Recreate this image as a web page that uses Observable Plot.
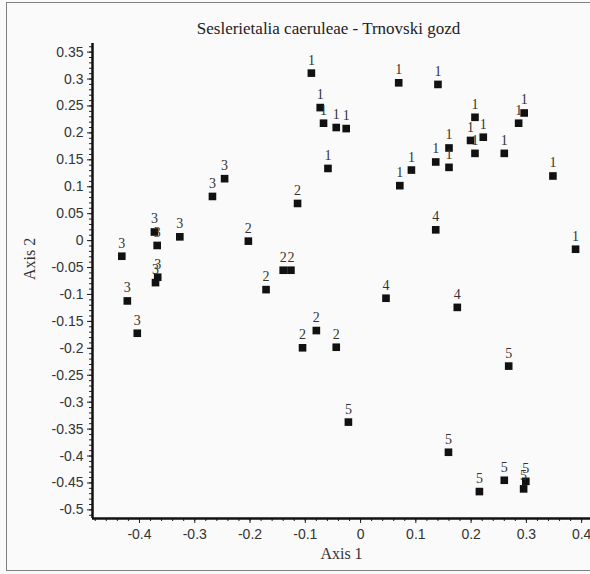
<!DOCTYPE html>
<html>
<head>
<meta charset="utf-8">
<script src="https://cdn.jsdelivr.net/npm/d3@7"></script>
<script src="https://cdn.jsdelivr.net/npm/@observablehq/plot@0.6"></script>
<style>
  html, body { margin: 0; padding: 0; background: #fafafa; }
  #wrap { position: relative; width: 590px; height: 574px; overflow: hidden; }
  #border { position: absolute; left: 6px; top: 2px; width: 585px; height: 569px; border: 1px solid #808080; box-sizing: border-box; pointer-events: none; }
  svg { background: transparent; }
</style>
</head>
<body>
<div id="wrap"><div id="border"></div></div>
<script>
// Site scores (Axis 1, Axis 2) and group labels
const axis1 = [
  -0.089, -0.073, -0.067, -0.044, -0.026, -0.059, 0.069, 0.140, 0.207, 0.222, 0.199,
  0.207, 0.160, 0.136, 0.160, 0.092, 0.071, 0.260, 0.286, 0.296, 0.348, 0.389,
  -0.114, -0.203, -0.140, -0.126, -0.171, -0.080, -0.105, -0.044,
  -0.246, -0.268, -0.373, -0.368, -0.327, -0.432, -0.367, -0.371, -0.422, -0.404,
  0.136, 0.046, 0.175,
  0.268, -0.022, 0.159, 0.215, 0.260, 0.299, 0.295
];
const axis2 = [
  0.311, 0.247, 0.218, 0.210, 0.208, 0.134, 0.293, 0.290, 0.229, 0.192, 0.186,
  0.162, 0.172, 0.146, 0.136, 0.131, 0.102, 0.162, 0.218, 0.237, 0.120, -0.016,
  0.069, -0.001, -0.055, -0.055, -0.091, -0.167, -0.199, -0.198,
  0.115, 0.082, 0.016, -0.009, 0.007, -0.029, -0.068, -0.078, -0.112, -0.172,
  0.020, -0.107, -0.124,
  -0.233, -0.337, -0.393, -0.466, -0.445, -0.447, -0.461
];
const group = [
  "1","1","1","1","1","1","1","1","1","1","1",
  "1","1","1","1","1","1","1","1","1","1","1",
  "2","2","2","2","2","2","2","2",
  "3","3","3","3","3","3","3","3","3","3",
  "4","4","4",
  "5","5","5","5","5","5","5"
];
const xTicks = [-0.4, -0.3, -0.2, -0.1, 0, 0.1, 0.2, 0.3, 0.4];
const yTicks = [0.35, 0.3, 0.25, 0.2, 0.15, 0.1, 0.05, 0, -0.05, -0.1, -0.15, -0.2, -0.25, -0.3, -0.35, -0.4, -0.45, -0.5];
const xDomain = [-0.485, 0.416];
const yDomain = [-0.516, 0.366];
const title = "Seslerietalia caeruleae - Trnovski gozd";
const xLabel = "Axis 1";
const yLabel = "Axis 2";

const points = axis1.map((x, i) => ({x, y: axis2[i], g: group[i]}));
const xMinor = d3.range(-48, 42, 2).map(d => d / 100);
const yMinor = d3.range(-51, 37, 1).map(d => d / 100);
const fmt = d => String(+d.toFixed(2));
const blank = () => "";
const serif = "'Liberation Serif', 'Times New Roman', serif";
const sans = "'Liberation Sans', Arial, sans-serif";

const chart = Plot.plot({
  width: 590,
  height: 574,
  marginLeft: 92,
  marginRight: 0,
  marginTop: 43,
  marginBottom: 56,
  style: {background: "transparent", color: "#222"},
  x: {domain: xDomain, label: null},
  y: {domain: yDomain, label: null},
  marks: [
    Plot.axisX({ticks: xMinor, tickSize: 3, tickFormat: blank, stroke: "#222", label: null}),
    Plot.axisX({ticks: xTicks, tickSize: 5, tickPadding: 6, tickFormat: fmt, fontSize: 14, fontFamily: sans, fill: "#333", stroke: "#222", label: null}),
    Plot.axisY({ticks: yMinor, tickSize: 3, tickFormat: blank, stroke: "#222", label: null}),
    Plot.axisY({ticks: yTicks, tickSize: 5, tickPadding: 4, tickFormat: fmt, fontSize: 14, fontFamily: sans, fill: "#333", stroke: "#222", label: null}),
    Plot.ruleX([xDomain[0]], {stroke: "#111", strokeWidth: 2.5}),
    Plot.ruleY([yDomain[0]], {stroke: "#111", strokeWidth: 2.5}),
    Plot.dot(points, {x: "x", y: "y", symbol: "square", r: 4.3, fill: "#111", stroke: "none"}),
    Plot.text(points, {x: "x", y: "y", text: "g", dy: -13, fontSize: 14, fontFamily: serif, fill: "#333"}),
    Plot.text([title], {frameAnchor: "top", dx: -13, dy: -22, fontSize: 17, fontFamily: serif, fill: "#222"}),
    Plot.text([xLabel], {frameAnchor: "bottom", dx: 0, dy: 40, fontSize: 16, fontFamily: serif, fill: "#333"}),
    Plot.text([yLabel], {frameAnchor: "left", dx: -63, dy: -1, rotate: -90, fontSize: 16, fontFamily: serif, fill: "#333"})
  ]
});
document.getElementById("wrap").appendChild(chart);
</script>
</body>
</html>
